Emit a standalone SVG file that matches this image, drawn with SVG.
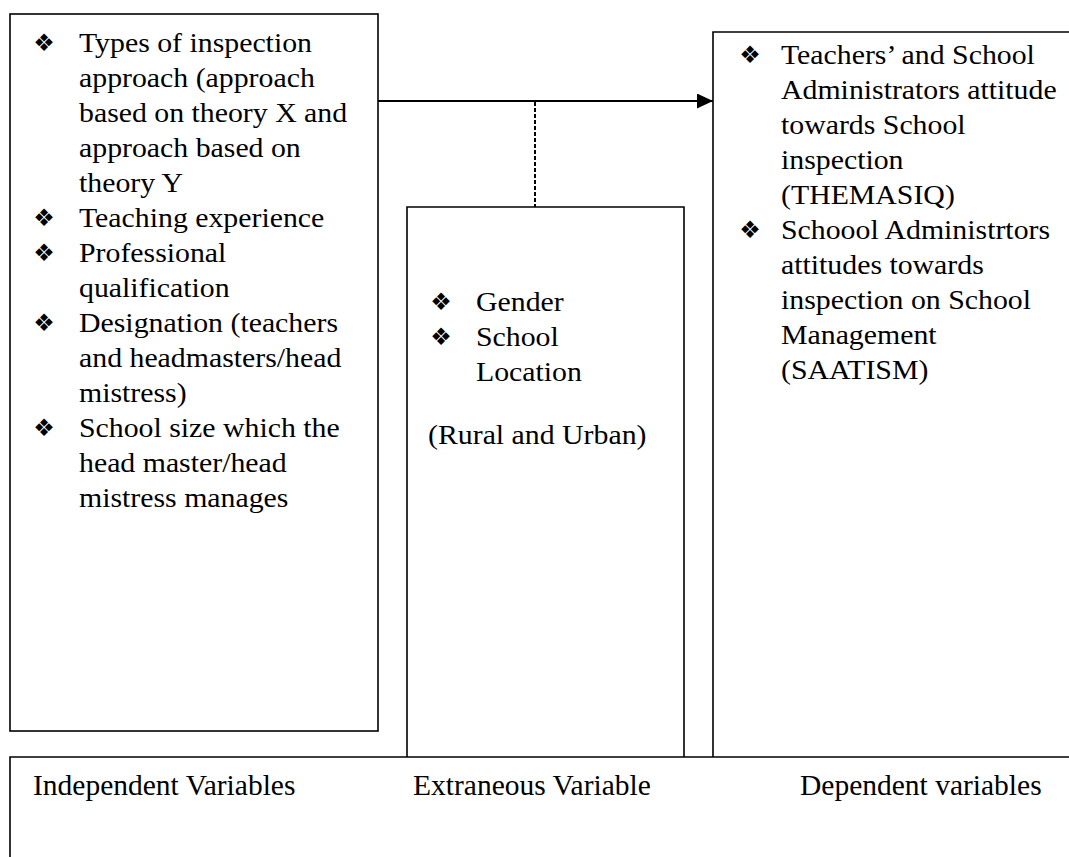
<svg xmlns="http://www.w3.org/2000/svg" width="1069" height="857" viewBox="0 0 1069 857">
<defs>
<style>
.box{fill:none;stroke:#000;stroke-width:1.6}
.t{font-family:"Liberation Serif","Times New Roman",serif;font-size:28px;fill:#000}
.tb{font-family:"Liberation Serif","Times New Roman",serif;font-size:29.5px;fill:#000}
.b{font-family:"DejaVu Sans",sans-serif;font-size:24px;fill:#000;text-anchor:middle}
</style>
<marker id="ah" markerWidth="16" markerHeight="15" refX="16" refY="7.5" orient="auto" markerUnits="userSpaceOnUse">
<polygon points="0,0 16,7.5 0,15" fill="#000"/>
</marker>
</defs>
<rect width="1069" height="857" fill="#fff"/>
<g id="connectors">
<line x1="378" y1="101" x2="713" y2="101" stroke="#000" stroke-width="2" marker-end="url(#ah)"/>
<line x1="535" y1="102" x2="535" y2="207" stroke="#000" stroke-width="2" stroke-dasharray="4,2"/>
</g>
<g id="independent">
<rect class="box" x="10" y="14" width="368" height="717"/>
<text class="b" x="44" y="51">❖</text>
<text class="b" x="44" y="226">❖</text>
<text class="b" x="44" y="261">❖</text>
<text class="b" x="44" y="331">❖</text>
<text class="b" x="44" y="436">❖</text>
<g transform="translate(79 0) scale(1.065 1)">
<text class="t" x="0" y="52">Types of inspection</text>
<text class="t" x="0" y="87">approach (approach</text>
<text class="t" x="0" y="122">based on theory X and</text>
<text class="t" x="0" y="157">approach based on</text>
<text class="t" x="0" y="192">theory Y</text>
<text class="t" x="0" y="227">Teaching experience</text>
<text class="t" x="0" y="262">Professional</text>
<text class="t" x="0" y="297">qualification</text>
<text class="t" x="0" y="332">Designation (teachers</text>
<text class="t" x="0" y="367">and headmasters/head</text>
<text class="t" x="0" y="402">mistress)</text>
<text class="t" x="0" y="437">School size which the</text>
<text class="t" x="0" y="472">head master/head</text>
<text class="t" x="0" y="507">mistress manages</text>
</g>
</g>
<g id="extraneous">
<path class="box" d="M407 757 V207 H684 V757" stroke-width="1.2"/>
<text class="b" x="441" y="310">❖</text>
<text class="b" x="441" y="345">❖</text>
<g transform="translate(476 0) scale(1.065 1)">
<text class="t" x="0" y="311">Gender</text>
<text class="t" x="0" y="346">School</text>
<text class="t" x="0" y="381">Location</text>
</g>
<g transform="translate(428 0) scale(1.065 1)">
<text class="t" x="0" y="444">(Rural and Urban)</text>
</g>
</g>
<g id="dependent">
<path class="box" d="M713 757 V32 H1075" stroke-width="2"/>
<text class="b" x="750" y="63">❖</text>
<text class="b" x="750" y="238">❖</text>
<g transform="translate(781 0) scale(1.065 1)">
<text class="t" x="0" y="64">Teachers’ and School</text>
<text class="t" x="0" y="99">Administrators attitude</text>
<text class="t" x="0" y="134">towards School</text>
<text class="t" x="0" y="169">inspection</text>
<text class="t" x="0" y="204">(THEMASIQ)</text>
<text class="t" x="0" y="239">Schoool Administrtors</text>
<text class="t" x="0" y="274">attitudes towards</text>
<text class="t" x="0" y="309">inspection on School</text>
<text class="t" x="0" y="344">Management</text>
<text class="t" x="0" y="379">(SAATISM)</text>
</g>
</g>
<g id="labels">
<path class="box" d="M10 862 V757 H1075" stroke-width="2"/>
<text class="tb" x="33" y="795">Independent Variables</text>
<text class="tb" x="413" y="795">Extraneous Variable</text>
<text class="tb" x="800" y="795">Dependent variables</text>
</g>
</svg>
